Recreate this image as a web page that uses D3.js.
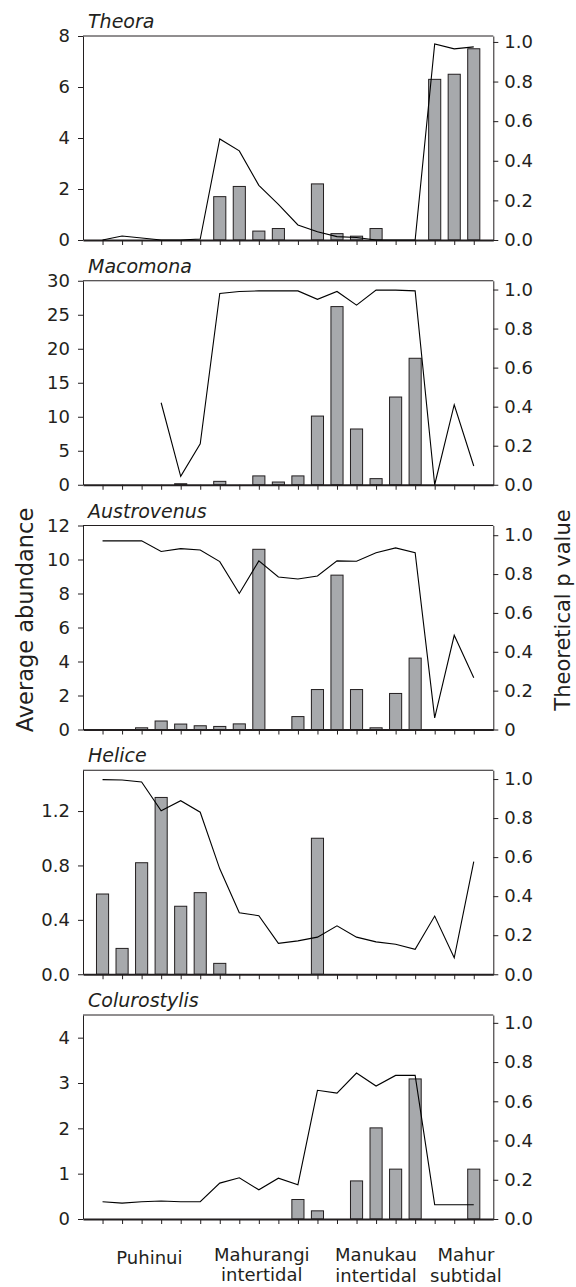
<!DOCTYPE html>
<html>
<head>
<meta charset="utf-8">
<script src="https://cdn.jsdelivr.net/npm/d3@7"></script>
<style>
  body { margin: 0; background: #fff; }
  svg text { font-family: "DejaVu Sans", sans-serif; fill: #231f20; }
  .axis path, .axis line { stroke: #231f20; }
</style>
</head>
<body>
<div id="chart"></div>
<script>
// sites along the x axis (no individual labels in the figure)
var sites = ["1","2","3","4","5","6","7","8","9","10","11","12","13","14","15","16","17","18","19","20"];
var species = ["Theora", "Macomona", "Austrovenus", "Helice", "Colurostylis"];

// average abundance (bars, left axis)
var theoraAbund = [0,0,0,0,0,0,1.7,2.1,0.35,0.45,0,2.2,0.25,0.15,0.45,0,0,6.3,6.5,7.5];
var macomonaAbund = [0,0,0,0,0.15,0,0.5,0,1.3,0.4,1.3,10.1,26.2,8.2,0.9,12.9,18.6,0,0,0];
var austrovenusAbund = [0,0,0.1,0.5,0.32,0.22,0.18,0.33,10.6,0,0.76,2.35,9.08,2.35,0.1,2.12,4.2,0,0,0];
var heliceAbund = [0.59,0.19,0.82,1.3,0.5,0.6,0.08,0,0,0,0,1.0,0,0,0,0,0,0,0,0];
var colurostylisAbund = [0,0,0,0,0,0,0,0,0,0,0.43,0.18,0,0.84,2.01,1.1,3.09,0,0,1.1];

// theoretical p value (line, right axis)
var theoraP = [0,0.02,0.01,0,0,0.005,0.51,0.45,0.276,0.18,0.076,0.042,0.017,0.013,0,0,0,0.99,0.965,0.975];
var macomonaP = [null,null,null,0.42,0.043,0.21,0.98,0.99,0.993,0.993,0.993,0.95,0.99,0.92,0.997,0.997,0.993,0,0.41,0.096];
var austrovenusP = [0.971,0.971,0.971,0.916,0.931,0.924,0.864,0.70,0.868,0.785,0.775,0.79,0.868,0.866,0.91,0.935,0.91,0.06,0.485,0.266];
var heliceP = [0.997,0.995,0.985,0.837,0.889,0.83,0.54,0.315,0.30,0.158,0.171,0.19,0.248,0.19,0.166,0.154,0.128,0.298,0.084,0.577];
var colurostylisP = [0.088,0.081,0.088,0.092,0.088,0.088,0.183,0.21,0.149,0.208,0.175,0.656,0.642,0.744,0.678,0.732,0.732,0.073,0.073,0.073];

// axis ticks
var leftTicks = [[0,2,4,6,8],[0,5,10,15,20,25,30],[0,2,4,6,8,10,12],[0,0.4,0.8,1.2],[0,1,2,3,4]];
var leftMax = [8, 30, 12, 1.5, 4.5];
var pTicks = [0,0.2,0.4,0.6,0.8,1.0];
var pMax = [1.03, 1.045, 1.05, 1.045, 1.04];

// estuary groups under the x axis
var groupLines = [["Puhinui"], ["Mahurangi","intertidal"], ["Manukau","intertidal"], ["Mahur","subtidal"]];

var abundance = [theoraAbund, macomonaAbund, austrovenusAbund, heliceAbund, colurostylisAbund];
var pvalues = [theoraP, macomonaP, austrovenusP, heliceP, colurostylisP];

var cfg = {
  w: 576,
  h: 1287,
  left: 83,
  right: 493.3,
  top: 36,
  pitch: 244.75,
  ph: 204,
  barFrac: 0.62,
  barFill: "#a7a9ac",
  ink: "#231f20"
};

var svg = d3.select("#chart")
    .append("svg")
    .attr("width", cfg.w)
    .attr("height", cfg.h);

var x = d3.scalePoint().domain(sites).range([cfg.left, cfg.right]).padding(1);
var barW = x.step() * cfg.barFrac;

species.forEach(function(name, k) {
  var top = cfg.top + k * cfg.pitch;
  var bottom = top + cfg.ph;
  var y = d3.scaleLinear().domain([0, leftMax[k]]).range([bottom, top]);
  var yp = d3.scaleLinear().domain([0, pMax[k]]).range([bottom, top]);
  var g = svg.append("g");

  var bars = abundance[k].map(function(v, i) { return {site: sites[i], v: v}; })
      .filter(function(d) { return d.v > 0; });

  g.selectAll("rect.bar")
      .data(bars)
    .enter().append("rect")
      .attr("class", "bar")
      .attr("x", function(d) { return x(d.site) - barW / 2; })
      .attr("width", barW)
      .attr("y", function(d) { return y(d.v); })
      .attr("height", function(d) { return bottom - y(d.v); })
      .style("fill", cfg.barFill)
      .style("stroke", cfg.ink)
      .style("stroke-width", 1);

  // top of the frame
  g.append("line")
      .attr("x1", cfg.left).attr("x2", cfg.right)
      .attr("y1", top).attr("y2", top)
      .style("stroke", cfg.ink)
      .style("stroke-width", 1);

  var leftFmt = k === 3 ? d3.format(".1f") : d3.format("d");
  g.append("g")
      .attr("class", "axis")
      .attr("transform", "translate(" + cfg.left + ",0)")
      .call(d3.axisLeft(y).tickValues(leftTicks[k]).tickSize(5).tickSizeOuter(0).tickPadding(8).tickFormat(leftFmt))
    .selectAll("text")
      .style("font-size", "18px");

  var rightFmt = function(d) { return (k === 2 && d === 0) ? "0" : d3.format(".1f")(d); };
  g.append("g")
      .attr("class", "axis")
      .attr("transform", "translate(" + cfg.right + ",0)")
      .call(d3.axisRight(yp).tickValues(pTicks).tickSize(5).tickSizeOuter(0).tickPadding(6).tickFormat(rightFmt))
    .selectAll("text")
      .style("font-size", "18px");

  var xAxis = g.append("g")
      .attr("class", "axis")
      .attr("transform", "translate(0," + bottom + ")")
      .call(d3.axisBottom(x).tickSize(5).tickSizeOuter(0).tickFormat(""));
  xAxis.select(".domain").style("stroke-width", 2);

  var line = d3.line()
      .defined(function(d) { return d !== null; })
      .x(function(d, i) { return x(sites[i]); })
      .y(function(d) { return yp(d); });

  g.append("path")
      .datum(pvalues[k])
      .attr("d", line)
      .style("fill", "none")
      .style("stroke", "#000")
      .style("stroke-width", 1.1);

  g.append("text")
      .attr("x", cfg.left + 5)
      .attr("y", top - 8)
      .style("font-size", "19px")
      .style("font-style", "italic")
      .text(name);
});

// axis titles
svg.append("text")
    .attr("transform", "translate(33,620) rotate(-90)")
    .style("text-anchor", "middle")
    .style("font-size", "22.5px")
    .text("Average abundance");

svg.append("text")
    .attr("transform", "translate(570,610) rotate(-90)")
    .style("text-anchor", "middle")
    .style("font-size", "21px")
    .text("Theoretical p value");

// estuary labels, centred under their sites (site index, layout only)
var groupAt = [2.4, 8.15, 14, 18.6];
var firstBase = [45, 42, 42, 42];
var secondBase = [0, 62, 63, 63];
var lastBottom = cfg.top + 4 * cfg.pitch + cfg.ph;
var idx = d3.scaleLinear().domain([0, sites.length - 1]).range([x(sites[0]), x(sites[sites.length - 1])]);

groupLines.forEach(function(lines, j) {
  lines.forEach(function(t, r) {
    svg.append("text")
        .attr("x", idx(groupAt[j]))
        .attr("y", lastBottom + (r === 0 ? firstBase[j] : secondBase[j]))
        .style("text-anchor", "middle")
        .style("font-size", "18px")
        .text(t);
  });
});
</script>
</body>
</html>
